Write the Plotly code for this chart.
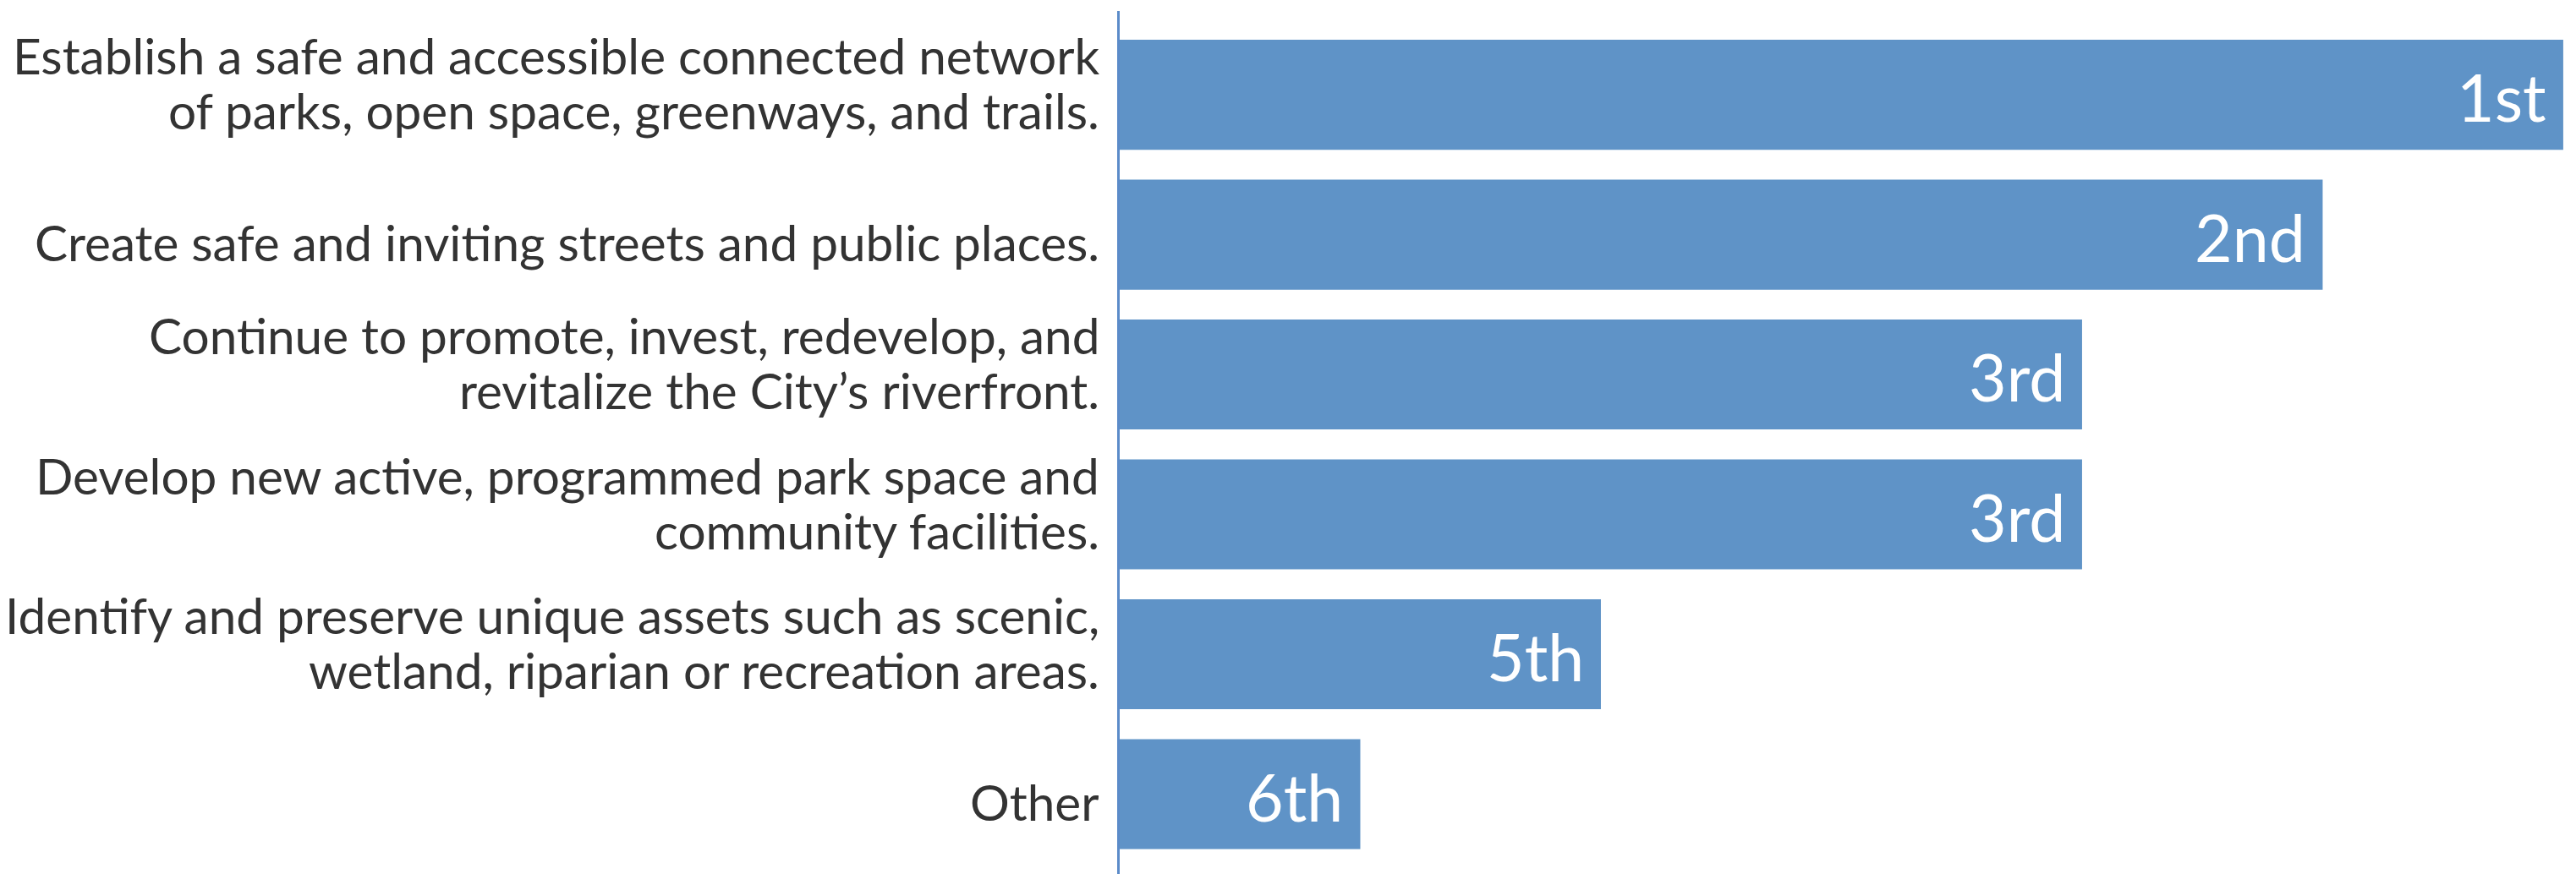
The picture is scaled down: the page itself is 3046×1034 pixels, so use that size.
import plotly.graph_objects as go

# Priorities, top to bottom, with their ranking and rank score (6 = top priority)
priorities = [
    "Establish a safe and accessible connected network<br>of parks, open space, greenways, and trails.",
    "Create safe and inviting streets and public places.",
    "Continue to promote, invest, redevelop, and<br>revitalize the City’s riverfront.",
    "Develop new active, programmed park space and<br>community facilities.",
    "Identify and preserve unique assets such as scenic,<br>wetland, riparian or recreation areas.",
    "Other",
]
scores = [6, 5, 4, 4, 2, 1]
ranks = ["1st", "2nd", "3rd", "3rd", "5th", "6th"]

BAR_COLOR = "#5F93C7"
TEXT_COLOR = "#333333"
LABEL_FONT = "Lato"

fig = go.Figure(
    go.Bar(
        x=scores,
        y=priorities,
        orientation="h",
        marker=dict(color=BAR_COLOR, line=dict(width=0)),
        hoverinfo="skip",
    )
)

annotations = []
for cat, score, rank in zip(priorities, scores, ranks):
    # rank label inside the bar end
    annotations.append(dict(
        x=score, y=cat, xref="x", yref="y",
        text=rank, showarrow=False,
        xanchor="right", yanchor="middle", xshift=-18, yshift=-2,
        font=dict(family=LABEL_FONT, size=77, color="white"),
    ))
    # category label, right-aligned against the axis, one annotation per line
    lines = cat.split("<br>")
    offsets = [8] if len(lines) == 1 else [-47, 18]
    for line, off in zip(lines, offsets):
        annotations.append(dict(
            x=0, y=cat, xref="paper", yref="y",
            text=line, showarrow=False,
            xanchor="right", yanchor="middle", xshift=-22, yshift=-off,
            font=dict(family=LABEL_FONT, size=58.5, color=TEXT_COLOR),
        ))

fig.update_layout(
    width=3046, height=1034,
    margin=dict(l=1324, r=0, t=13, b=0, pad=0),
    paper_bgcolor="white", plot_bgcolor="white",
    bargap=0.214,
    showlegend=False,
    annotations=annotations,
    xaxis=dict(range=[0, 6.053], showgrid=False, zeroline=False,
               showticklabels=False, showline=False, fixedrange=True),
    yaxis=dict(range=[5.571, -0.599], showgrid=False, zeroline=False,
               showticklabels=False, ticks="", showline=True,
               linecolor="#5B8BC9", linewidth=3, fixedrange=True),
)

fig.write_html("out.html")
